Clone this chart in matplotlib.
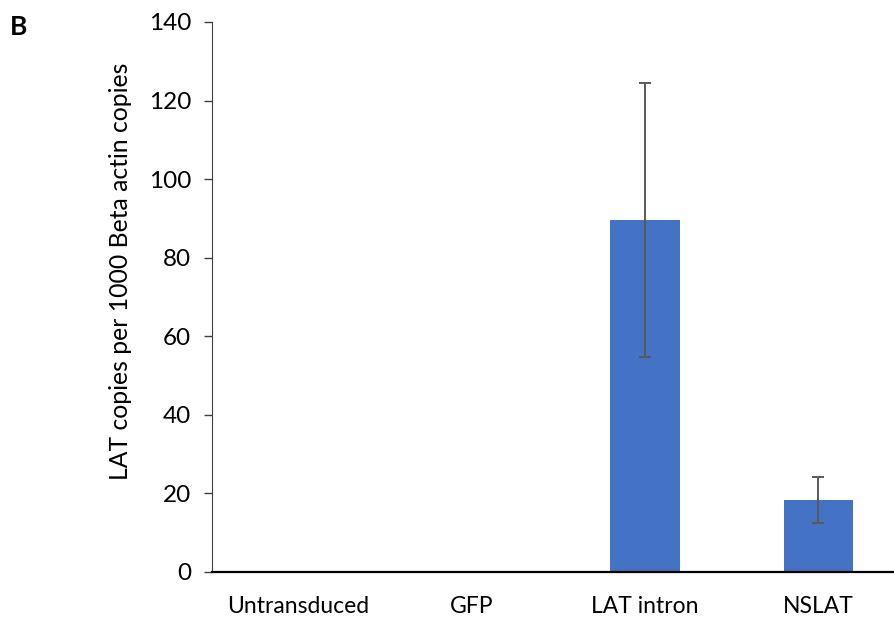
import numpy as np
import matplotlib.pyplot as plt

plt.rcParams['font.family'] = ['Lato', 'DejaVu Sans']

groups = ['Untransduced', 'GFP', 'LAT intron', 'NSLAT']
lat_copies = [0, 0, 89.6, 18.3]
sem = [0, 0, 34.9, 5.8]

fig = plt.figure(figsize=(8.95, 6.21), dpi=100)
ax = fig.add_axes([212 / 895, 1 - 572 / 621, (905 - 212) / 895, 550 / 621])

x = np.arange(len(groups))
err = [s if s > 0 else np.nan for s in sem]
ax.bar(x, lat_copies, width=0.4, color='#4472C4', zorder=2)
ax.errorbar(x, lat_copies, yerr=err, fmt='none', ecolor='#595959',
            elinewidth=1.4, capsize=4, capthick=1.4, zorder=3)

ax.set_xlim(-0.5, 3.5)
ax.set_ylim(0, 140)
ax.set_yticks(np.arange(0, 141, 20))
ax.set_xticks(x)
ax.set_xticklabels(groups, fontsize=16.5)
ax.tick_params(axis='y', labelsize=17.5, length=6, width=1, color='#404040', pad=9)
ax.tick_params(axis='x', length=0, pad=17)

ax.spines['top'].set_visible(False)
ax.spines['right'].set_visible(False)
ax.spines['left'].set_color('#404040')
ax.spines['bottom'].set_linewidth(1.6)
ax.spines['bottom'].set_color('black')

ax.set_ylabel('LAT copies per 1000 Beta actin copies', fontsize=17.8)
ax.yaxis.set_label_coords(-0.116, 0.547)
fig.text(10 / 895, 1 - 27 / 621, 'B', fontsize=19, fontweight='bold', va='center')

fig.savefig('out.png', dpi=100)
